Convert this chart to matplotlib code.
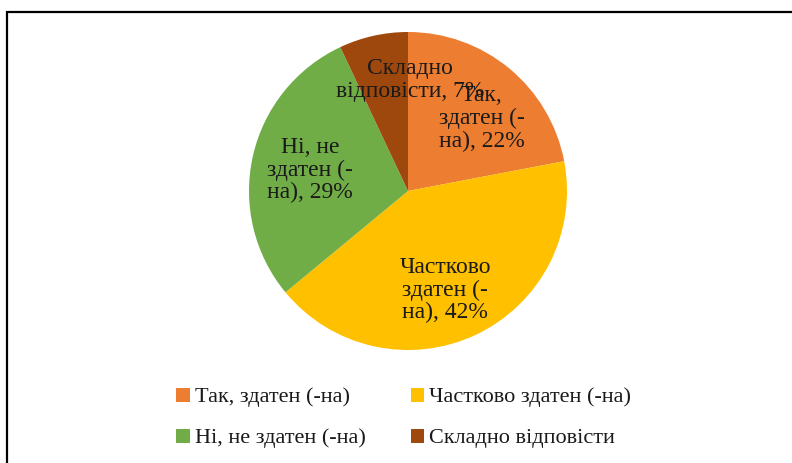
import numpy as np
import matplotlib.pyplot as plt
from matplotlib.patches import Rectangle

# Дані діаграми
categories = ["Так, здатен (-на)", "Частково здатен (-на)", "Ні, не здатен (-на)", "Складно відповісти"]
labels = ["Так,\nздатен (-\nна), 22%", "Частково\nздатен (-\nна), 42%", "Ні, не\nздатен (-\nна), 29%", "Складно\nвідповісти, 7%"]
values = [22, 42, 29, 7]
colors = ["#ED7D31", "#FFC000", "#70AD47", "#9E480E"]

plt.rcParams['font.family'] = ['Liberation Serif', 'DejaVu Serif']

W, H = 792, 463
fig = plt.figure(figsize=(W / 100, H / 100), dpi=100)

# рамка навколо області діаграми
fig.patches.append(Rectangle((7 / W, -0.1), 1.2, (H - 12) / H + 0.1, transform=fig.transFigure,
                             fill=False, edgecolor="#000000", linewidth=1.6, zorder=0))

cx, cy, r = 408, 191, 159
ax = fig.add_axes([(cx - r) / W, (H - cy - r) / H, 2 * r / W, 2 * r / H])
wedges, _ = ax.pie(values, colors=colors, startangle=90, counterclock=False, radius=1.0)
ax.set_xlim(-1, 1)
ax.set_ylim(-1, 1)
ax.set_aspect("auto")

# підписи всередині секторів
label_pos = [(0.65, 44.6), (0.665, -69.5), (0.63, 168.0), (0.70, 89.0)]
for lab, (rr, ang) in zip(labels, label_pos):
    t = np.deg2rad(ang)
    ax.text(rr * np.cos(t), rr * np.sin(t), lab, ha="center", va="center",
            fontsize=17, color="#1a1a1a", linespacing=1.1)

# легенда заповнюється по рядках
order = [0, 2, 1, 3]
leg = fig.legend([wedges[i] for i in order], [categories[i] for i in order],
                 loc="center", bbox_to_anchor=(0.51, 1 - 418 / H), ncol=2,
                 frameon=False, fontsize=16, handlelength=0.6, handleheight=0.6,
                 handletextpad=0.25, columnspacing=2.0, labelspacing=0.95)
for t in leg.get_texts():
    t.set_color("#1a1a1a")

fig.savefig("out.png", dpi=100)
